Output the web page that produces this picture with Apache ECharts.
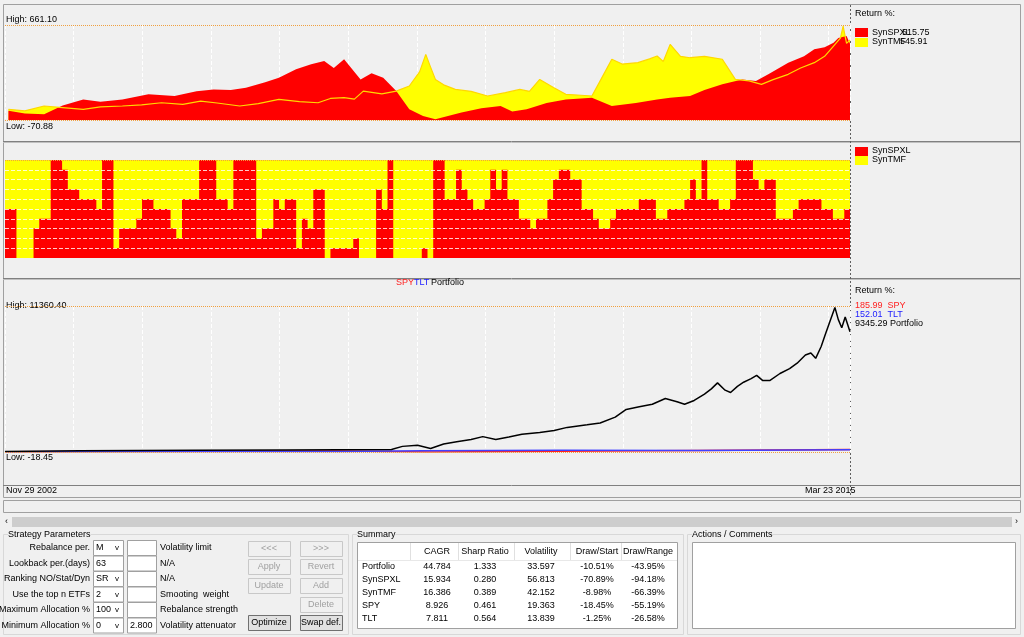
<!DOCTYPE html>
<html><head><meta charset="utf-8">
<script src="https://cdn.jsdelivr.net/npm/echarts@6/dist/echarts.min.js"></script>
<style>html,body{margin:0;padding:0;background:#f0f0f0}#c{width:1024px;height:637px}</style>
</head><body><div id="c"></div>
<script>
// ---- data ----
const spxlYears=[2002.96,2003.2,2003.48,2003.75,2004.05,2004.3,2004.62,2005.0,2005.38,2005.7,2005.95,2006.2,2006.42,2006.7,2006.9,2007.15,2007.37,2007.56,2007.7,2007.85,2008.09,2008.25,2008.42,2008.61,2008.8,2009.0,2009.18,2009.56,2009.85,2010.13,2010.3,2010.51,2010.8,2011.08,2011.3,2011.46,2011.75,2012.1,2012.41,2012.6,2012.89,2013.1,2013.36,2013.65,2013.85,2014.03,2014.32,2014.55,2014.7,2014.85,2014.98,2015.05,2015.17,2015.22];
const spxlRet=[0,-20,-27,40,88,70,88,127,114,150,165,160,178,220,255,320,358,384,330,397,242,290,255,152,11,-40,-66,-14,20,37,-5,11,60,88,95,101,37,60,88,100,114,160,204,242,230,281,371,420,474,490,525,560,576,515.75];
const tmfYears=[2002.96,2003.2,2003.48,2003.75,2004.05,2004.3,2004.62,2004.9,2005.19,2005.5,2005.76,2006.0,2006.33,2006.6,2006.9,2007.2,2007.47,2007.65,2007.85,2008.0,2008.13,2008.4,2008.61,2008.8,2008.95,2009.04,2009.1,2009.18,2009.3,2009.47,2009.7,2009.94,2010.2,2010.41,2010.55,2010.7,2010.9,2011.08,2011.3,2011.46,2011.6,2011.75,2011.9,2012.13,2012.3,2012.41,2012.5,2012.6,2012.75,2012.89,2013.1,2013.36,2013.55,2013.75,2013.93,2014.1,2014.32,2014.5,2014.7,2014.85,2014.98,2015.08,2015.12,2015.17,2015.22];
const tmfRet=[11,0,37,25,11,30,37,45,62,50,75,60,37,55,88,70,62,95,101,90,152,130,152,191,300,435,350,242,200,165,150,114,140,165,150,242,180,127,120,114,250,397,360,371,400,422,380,512,420,409,420,397,242,230,204,240,281,330,371,420,499,560,653,520,545.91];
const allocStart=[0,2,5,6,8,10,11,13,16,17,19,20,23,24,26,29,30,31,34,37,39,40,44,45,47,48,49,51,52,53,54,56,57,61,62,65,66,67,68,73,74,75,77,79,80,81,82,84,85,86,87,88,90,92,93,95,96,97,99,101,103,104,106,107,111,114,116,119,120,121,122,123,125,127,128,131,132,133,135,138,139,143,145,147];
const allocSPXL=[50,0,30,40,100,90,70,60,50,100,10,30,40,60,50,30,20,60,100,60,50,100,20,30,60,50,60,10,40,30,70,0,10,20,0,70,50,100,0,10,0,100,60,90,70,60,50,60,90,70,90,60,40,30,40,60,80,90,80,50,40,30,40,50,60,40,50,60,80,60,100,60,50,60,100,80,70,80,40,50,60,50,40,50];
const nMonths=148;
const portYears=[2002.91,2004.0,2005.69,2007.0,2008.54,2008.7,2008.92,2009.11,2009.3,2009.49,2009.7,2009.87,2010.06,2010.25,2010.44,2010.7,2010.91,2011.1,2011.39,2011.58,2011.8,2011.96,2012.15,2012.34,2012.53,2012.7,2012.81,2012.95,2013.1,2013.2,2013.29,2013.4,2013.48,2013.58,2013.67,2013.78,2013.86,2013.95,2014.05,2014.2,2014.34,2014.45,2014.57,2014.65,2014.72,2014.8,2014.86,2014.93,2015.0,2015.05,2015.1,2015.15,2015.22];
const portRet=[30,80,110,140,170,420,510,250,600,780,950,1180,960,1150,1360,1500,1650,1900,2100,2240,2700,3300,3500,3700,4150,3900,3700,4000,4490,4900,5370,4800,4620,5100,5420,5700,5950,5550,5550,6100,6480,6900,7540,7700,7280,8200,9130,10200,11250,10300,9660,10500,9345.29];
const spyYears=[2002.91,2005.0,2007.8,2009.1,2011.0,2013.0,2015.22];
const spyRet=[0,20,60,-18.45,40,90,185.99];
const tltYears=[2002.91,2005.0,2007.8,2009.0,2011.0,2013.0,2015.22];
const tltRet=[0,15,30,70,110,100,152.01];
const tableCols=['CAGR','Sharp Ratio','Volatility','Draw/Start','Draw/Range'];
const tableRows=['Portfolio','SynSPXL','SynTMF','SPY','TLT'];
const tableVals=[['44.784','1.333','33.597','-10.51%','-43.95%'],['15.934','0.280','56.813','-70.89%','-94.18%'],['16.386','0.389','42.152','-8.98%','-66.39%'],['8.926','0.461','19.363','-18.45%','-55.19%'],['7.811','0.564','13.839','-1.25%','-26.58%']];
const paramLabels=['Rebalance per.','Lookback per.(days)','Ranking NO/Stat/Dyn','Use the top n ETFs','Maximum Allocation %','Minimum Allocation %'];
const paramCombo=['M','63','SR','2','100','0'];
const paramHasArrow=[true,false,true,true,true,true];
const paramBox=['','','','','','2.800'];
const paramRight=['Volatility limit','N/A','N/A','Smooting  weight','Rebalance strength','Volatility attenuator'];

// ---- build ----
const F='"Liberation Sans",Arial,sans-serif';
const pair=(xs,ys)=>xs.map((x,i)=>[x,ys[i]]);
const alloc=[];
for(let m=0;m<nMonths;m++){let v=0;for(let k=0;k<allocStart.length;k++){if(allocStart[k]<=m)v=allocSPXL[k];}alloc.push(v);}
const allocPts=alloc.map((v,i)=>[i,v]).concat([[nMonths,alloc[nMonths-1]]]);
const XMIN=2002.91,XMAX=2015.22;
const orangeML=(vals)=>({silent:true,symbol:'none',label:{show:false},lineStyle:{color:'#f0a040',type:'dotted',width:1},data:vals.map(v=>({yAxis:v}))});
const xv=(i)=>({type:'value',gridIndex:i,min:XMIN,max:XMAX,show:true,axisLine:{show:false},axisTick:{show:false},axisLabel:{show:false},splitLine:{show:true,lineStyle:{color:'#ffffff',type:'dashed'}},interval:1});

const G=[];
const T=(x,y,s,o={})=>G.push({type:'text',x,y,style:Object.assign({text:s,font:'9px '+F,fill:'#000',textVerticalAlign:'middle'},o),silent:true});
const R=(x,y,w,h,fill,stroke)=>G.push({type:'rect',shape:{x,y,width:w,height:h},style:{fill:fill,stroke:stroke||null,lineWidth:1},silent:true});
const L=(x1,y1,x2,y2,c,dash)=>G.push({type:'line',shape:{x1,y1,x2,y2},style:{stroke:c,lineWidth:1,lineDash:dash||null},silent:true});

R(3.5,4.5,1017,493,null,'#a0a0a0');
L(3,141.5,1020,141.5,'#808080');L(3,142.5,1020,142.5,'#c0c0c0');
L(3,278.5,1020,278.5,'#808080');L(3,279.5,1020,279.5,'#c0c0c0');
L(3,485.5,1020,485.5,'#808080');
L(850.5,5,850.5,497,'#606060',[2,2]);
T(855,14,'Return %:');
R(855,28,13,9,'#ff0000');R(855,38,13,9,'#ffff00');
T(872,33,'SynSPXL');T(902,33,'515.75');T(872,42,'SynTMF');T(900,42,'545.91');
R(855,147,13,9,'#ff0000');R(855,156,13,9,'#ffff00');
T(872,151,'SynSPXL');T(872,160,'SynTMF');
T(855,291,'Return %:');
T(855,306,'185.99  SPY',{fill:'#ff2020'});T(855,315,'152.01  TLT',{fill:'#2020ff'});T(855,324,'9345.29 Portfolio');
T(396,283,'SPY',{fill:'#ff2020'});T(414,283,'TLT',{fill:'#2020ff'});T(431,283,'Portfolio');
T(6,20,'High: 661.10');T(6,127,'Low: -70.88');
T(6,306,'High: 11360.40');T(6,458,'Low: -18.45');
T(6,491,'Nov 29 2002');T(805,491,'Mar 23 2015');
R(3.5,500.5,1017,12,'#f0f0f0','#a0a0a0');
R(12,517,1000,10,'#cdcdcd');T(5,522,'‹');T(1015,522,'›');
R(3.5,534.5,345,100,null,'#d8d8d8');R(352.5,534.5,331,100,null,'#d8d8d8');R(687.5,534.5,333,100,null,'#d8d8d8');
T(8,535,'Strategy Parameters',{backgroundColor:'#f0f0f0'});T(357,535,'Summary',{backgroundColor:'#f0f0f0'});T(692,535,'Actions / Comments',{backgroundColor:'#f0f0f0'});
R(692.5,542.5,323,86,'#fff','#a0a0a0');
R(357.5,542.5,320,86,'#fff','#a0a0a0');
const colX=[437,485,541,597,648];
tableCols.forEach((c,i)=>{T(colX[i],552,c,{textAlign:'center'});L(colX[i]-26.5,543,colX[i]-26.5,560,'#e0e0e0');});
L(358,560.5,677,560.5,'#e8e8e8');
tableRows.forEach((r,j)=>{const y=567+j*13;T(362,y,r);tableVals[j].forEach((v,i)=>T(colX[i],y,v,{textAlign:'center'}));});
paramLabels.forEach((p,j)=>{const y=548+j*15.5;T(90,y,p,{textAlign:'right'});
  R(93.5,y-7.5,30,15,'#fff','#a0a0a0');T(96,y,paramCombo[j]);if(paramHasArrow[j])T(115,y,'v',{font:'8px '+F});
  R(127.5,y-7.5,29,15,'#fff','#a0a0a0');T(130,y,paramBox[j]);T(160,y,paramRight[j]);});
const btn=(x,y,s,en)=>{R(x+.5,y+.5,42,15,en?'#e1e1e1':'#f0f0f0',en?'#707070':'#c8c8c8');T(x+21,y+8,s,{textAlign:'center',fill:en?'#000':'#a0a0a0'});};
btn(248,541,'<<<',0);btn(300,541,'>>>',0);btn(248,559,'Apply',0);btn(300,559,'Revert',0);btn(248,578,'Update',0);btn(300,578,'Add',0);btn(300,597,'Delete',0);btn(248,615,'Optimize',1);btn(300,615,'Swap def.',1);

const opt={animation:false,backgroundColor:'#f0f0f0',graphic:G,
 grid:[{left:5,right:174,top:25,height:95},{left:5,right:174,top:160,height:98},{left:5,right:174,top:306,height:146}],
 xAxis:[xv(0),{type:'value',gridIndex:1,min:0,max:nMonths,show:false},xv(2)],
 yAxis:[{type:'value',gridIndex:0,min:-70.88,max:661.1,show:false},{type:'value',gridIndex:1,min:0,max:100,show:false},{type:'value',gridIndex:2,min:-18.45,max:11360.4,show:false}],
 series:[
  {name:'SynTMF area',type:'line',xAxisIndex:0,yAxisIndex:0,data:pair(tmfYears,tmfRet),symbol:'none',lineStyle:{width:0},areaStyle:{color:'#ffff00',opacity:1,origin:-70.88},z:2},
  {name:'SynSPXL',type:'line',xAxisIndex:0,yAxisIndex:0,data:pair(spxlYears,spxlRet),symbol:'none',lineStyle:{width:0},areaStyle:{color:'#ff0000',opacity:1,origin:-70.88},z:3,markLine:orangeML([661.1,-70.88])},
  {name:'SynTMF',type:'line',xAxisIndex:0,yAxisIndex:0,data:pair(tmfYears,tmfRet),symbol:'none',lineStyle:{width:1.2,color:'#ffd800'},z:4},
  {name:'TMF alloc',type:'line',xAxisIndex:1,yAxisIndex:1,data:allocPts.map(p=>[p[0],100]),symbol:'none',lineStyle:{width:0},areaStyle:{color:'#ffff00',opacity:1,origin:0},z:2},
  {name:'SPXL alloc',type:'line',step:'end',xAxisIndex:1,yAxisIndex:1,data:allocPts,symbol:'none',lineStyle:{width:0},areaStyle:{color:'#ff0000',opacity:1,origin:0},z:3,
   markLine:{silent:true,symbol:'none',label:{show:false},lineStyle:{color:'#ffffff',type:'dashed',width:1,opacity:.8},data:[10,20,30,40,50,60,70,80,90].map(v=>({yAxis:v})).concat([{yAxis:100,lineStyle:{color:'#f0a040',type:'dotted',opacity:1}}])}},
  {name:'SPY',type:'line',xAxisIndex:2,yAxisIndex:2,data:pair(spyYears,spyRet),symbol:'none',lineStyle:{width:1.5,color:'#ff2020'},markLine:orangeML([11360.4,-18.45])},
  {name:'TLT',type:'line',xAxisIndex:2,yAxisIndex:2,data:pair(tltYears,tltRet),symbol:'none',lineStyle:{width:1.5,color:'#4040ff'}},
  {name:'Portfolio',type:'line',xAxisIndex:2,yAxisIndex:2,data:pair(portYears,portRet),symbol:'none',lineStyle:{width:1.5,color:'#000'}}
 ]};
echarts.init(document.getElementById('c')).setOption(opt);
</script></body></html>
